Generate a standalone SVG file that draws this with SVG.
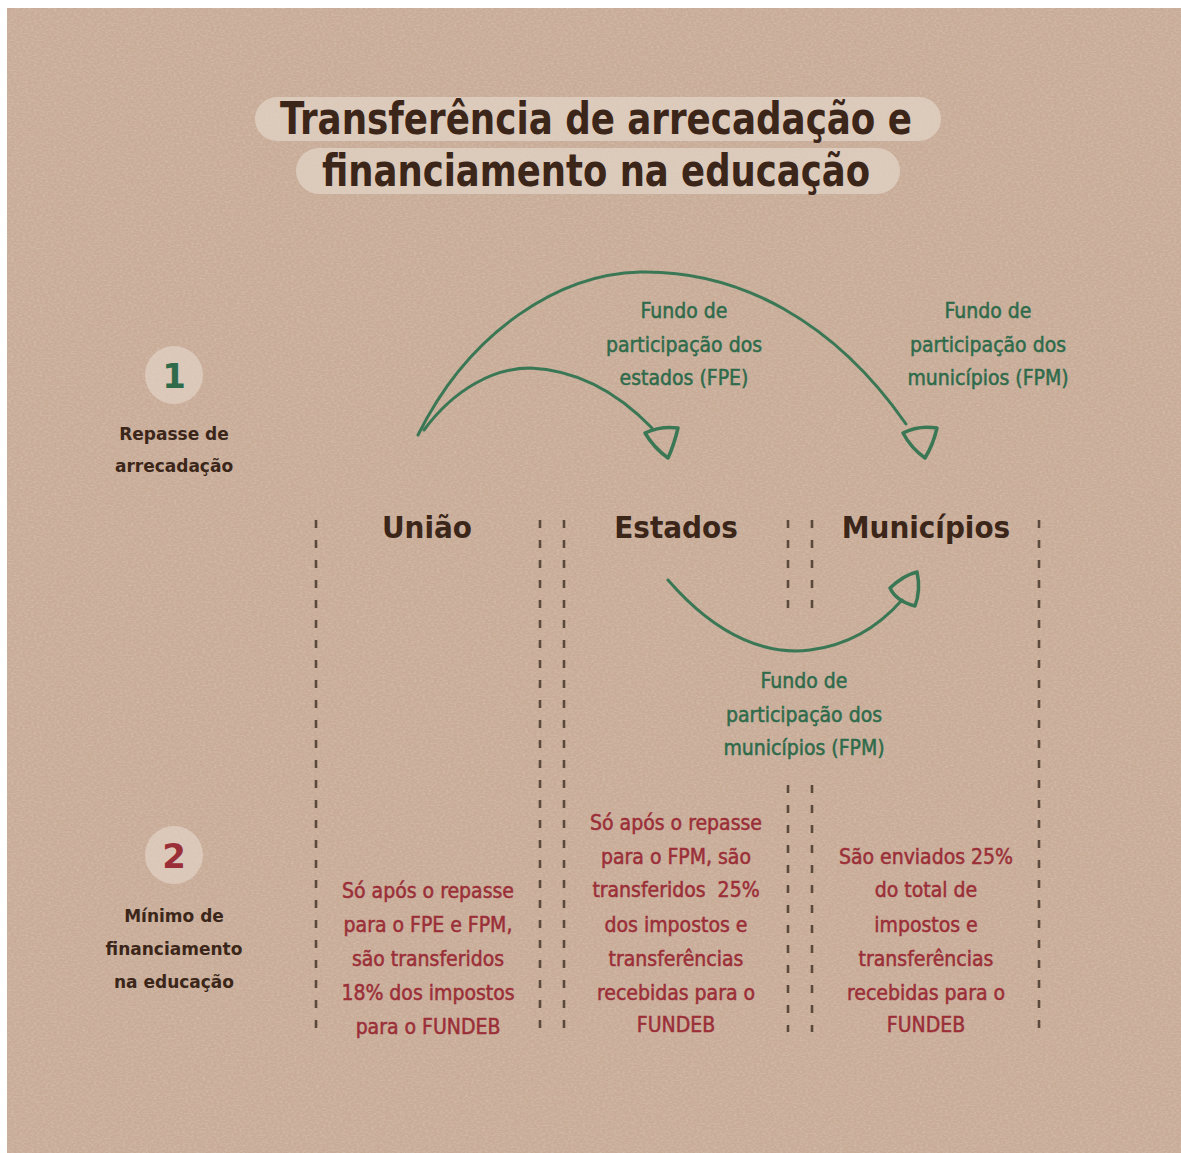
<svg xmlns="http://www.w3.org/2000/svg" width="1181" height="1153" viewBox="0 0 1181 1153">
<style>
.title{font-family:"DejaVu Sans Condensed","DejaVu Sans",sans-serif;font-weight:bold;font-size:44px;fill:#3b2619;text-anchor:middle}
.head{font-family:"DejaVu Sans Condensed","DejaVu Sans",sans-serif;font-weight:bold;font-size:31px;fill:#3b2619;text-anchor:middle}
.side{font-family:"DejaVu Sans","Liberation Sans",sans-serif;font-weight:bold;font-size:17px;fill:#3b2619;text-anchor:middle}
.num{font-family:"DejaVu Sans","Liberation Sans",sans-serif;font-weight:bold;font-size:34px;text-anchor:middle}
.green{font-family:"DejaVu Sans Condensed","DejaVu Sans",sans-serif;font-size:21px;fill:#2f6b4b;stroke:#2f6b4b;stroke-width:0.5;text-anchor:middle}
.red{font-family:"DejaVu Sans Condensed","DejaVu Sans",sans-serif;font-size:21px;fill:#9b2f38;stroke:#9b2f38;stroke-width:0.5;text-anchor:middle}
.pill{fill:#e2d3c6;opacity:0.75}
.dash{stroke:#5b4a3b;stroke-width:2.6;stroke-dasharray:8 12;fill:none}
.arc{stroke:#3a7755;stroke-width:3;fill:none;stroke-linecap:round}
.tip{stroke:#3a7755;stroke-width:3.5;fill:none;stroke-linejoin:round}
</style>
<defs>
<filter id="tex" x="0" y="0" width="100%" height="100%">
<feTurbulence type="fractalNoise" baseFrequency="0.35 0.6" numOctaves="2" seed="3" result="n"/>
<feColorMatrix type="matrix" values="0 0 0 0 0.95  0 0 0 0 0.9  0 0 0 0 0.86  0 0 0 0.9 -0.35" in="n" result="c"/>
<feComposite in="c" in2="SourceGraphic" operator="in"/>
</filter>
</defs>
<rect x="0" y="0" width="1181" height="1153" fill="#ffffff"/>
<rect x="7" y="8" width="1174" height="1145" fill="#c8ac98"/>
<rect x="7" y="8" width="1174" height="1145" fill="#c8ac98" filter="url(#tex)" opacity="0.45"/>

<g id="title">
<rect class="pill" x="255" y="97" width="686" height="44" rx="22"/>
<rect class="pill" x="296" y="148" width="604" height="46" rx="23"/>
<text class="title" x="596" y="134" textLength="632" lengthAdjust="spacingAndGlyphs">Transferência de arrecadação e</text>
<text class="title" x="596" y="186" textLength="548" lengthAdjust="spacingAndGlyphs">financiamento na educação</text>
</g>

<g id="step1">
<circle cx="174" cy="375" r="29" fill="#e2d3c6" opacity="0.7"/>
<text class="num" x="174" y="388" fill="#2f6b4b">1</text>
<text class="side" x="174" y="440">Repasse de</text>
<text class="side" x="174" y="472">arrecadação</text>
</g>

<g id="step2">
<circle cx="174" cy="855" r="29" fill="#e2d3c6" opacity="0.7"/>
<text class="num" x="174" y="868" fill="#9b2f38">2</text>
<text class="side" x="174" y="922">Mínimo de</text>
<text class="side" x="174" y="955">financiamento</text>
<text class="side" x="174" y="988">na educação</text>
</g>

<g id="columns">
<line class="dash" x1="316" y1="520" x2="316" y2="1032"/>
<line class="dash" x1="540" y1="520" x2="540" y2="1032"/>
<line class="dash" x1="564" y1="520" x2="564" y2="1032"/>
<line class="dash" x1="788" y1="520" x2="788" y2="612"/>
<line class="dash" x1="812" y1="520" x2="812" y2="612"/>
<line class="dash" x1="788" y1="785" x2="788" y2="1032"/>
<line class="dash" x1="812" y1="785" x2="812" y2="1032"/>
<line class="dash" x1="1039" y1="520" x2="1039" y2="1032"/>
</g>

<g id="uniao">
<text class="head" x="427" y="538">União</text>
<text class="red" x="428" y="898">Só após o repasse</text>
<text class="red" x="428" y="932">para o FPE e FPM,</text>
<text class="red" x="428" y="966">são transferidos</text>
<text class="red" x="428" y="1000">18% dos impostos</text>
<text class="red" x="428" y="1034">para o FUNDEB</text>
</g>

<g id="estados">
<text class="head" x="676" y="538">Estados</text>
<text class="red" x="676" y="830">Só após o repasse</text>
<text class="red" x="676" y="864">para o FPM, são</text>
<text class="red" x="676" y="897" xml:space="preserve">transferidos  25%</text>
<text class="red" x="676" y="932">dos impostos e</text>
<text class="red" x="676" y="966">transferências</text>
<text class="red" x="676" y="1000">recebidas para o</text>
<text class="red" x="676" y="1032">FUNDEB</text>
</g>

<g id="municipios">
<text class="head" x="926" y="538">Municípios</text>
<text class="red" x="926" y="864">São enviados 25%</text>
<text class="red" x="926" y="897">do total de</text>
<text class="red" x="926" y="932">impostos e</text>
<text class="red" x="926" y="966">transferências</text>
<text class="red" x="926" y="1000">recebidas para o</text>
<text class="red" x="926" y="1032">FUNDEB</text>
</g>

<g id="connectors">
<path class="arc" d="M418,435 C470,330 560,274 640,272 C740,270 835,322 906,424"/>
<path class="tip" d="M903,433 Q918,425 937,428 Q933,445 925,458 Q911,448 903,433 Z"/>
<path class="arc" d="M424,430 C455,388 495,368 530,368 C580,370 620,395 652,428"/>
<path class="tip" d="M645,433 Q660,426 678,428 Q674,445 668,458 Q654,448 645,433 Z"/>
<path class="arc" d="M668,580 C720,640 770,655 810,650 C850,645 880,625 902,600"/>
<path class="tip" d="M890,588 Q904,575 917,572 Q921,590 915,606 Q896,601 890,588 Z"/>
</g>

<g id="labels">
<text class="green" x="684" y="318">Fundo de</text>
<text class="green" x="684" y="352">participação dos</text>
<text class="green" x="684" y="385">estados (FPE)</text>
<text class="green" x="988" y="318">Fundo de</text>
<text class="green" x="988" y="352">participação dos</text>
<text class="green" x="988" y="385">municípios (FPM)</text>
<text class="green" x="804" y="688">Fundo de</text>
<text class="green" x="804" y="722">participação dos</text>
<text class="green" x="804" y="755">municípios (FPM)</text>
</g>
</svg>
